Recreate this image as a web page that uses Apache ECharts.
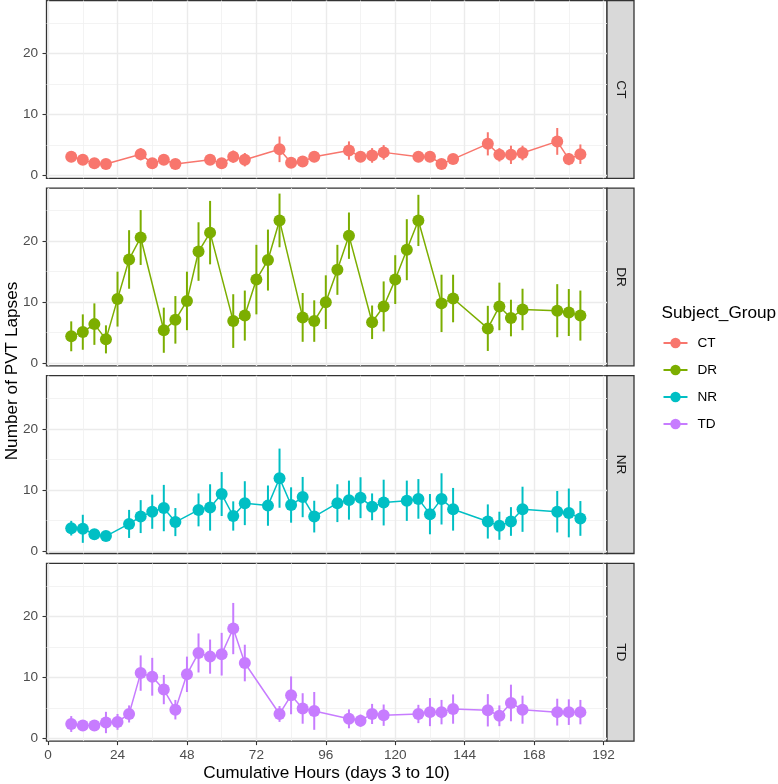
<!DOCTYPE html>
<html>
<head>
<meta charset="utf-8">
<script src="https://cdn.jsdelivr.net/npm/echarts@6/dist/echarts.min.js"></script>
<style>
  html, body { margin: 0; padding: 0; background: #FFFFFF; }
  #chart { width: 778px; height: 784px; }
</style>
</head>
<body>
<div id="chart"></div>
<script>
// facet groups and ggplot default hues
const groups = ['CT', 'DR', 'NR', 'TD'];
const groupColors = ['#F8766D', '#7CAE00', '#00BFC4', '#C77CFF'];

// x ticks (cumulative hours) and y ticks (lapses)
const xTicks = [0, 24, 48, 72, 96, 120, 144, 168, 192];
const xMinor = [12, 36, 60, 84, 108, 132, 156, 180];
const yTicks = [0, 10, 20];
const yMinor = [5, 15, 25];

// CT
const ctHours = [8, 12, 16, 20, 32, 36, 40, 44, 56, 60, 64, 68, 80, 84, 88, 92, 104, 108, 112, 116, 128, 132, 136, 140, 152, 156, 160, 164, 176, 180, 184];
const ctMean = [3.1, 2.6, 2.0, 1.9, 3.5, 2.0, 2.6, 1.9, 2.6, 2.0, 3.1, 2.6, 4.3, 2.1, 2.3, 3.1, 4.1, 3.1, 3.3, 3.8, 3.1, 3.1, 1.9, 2.7, 5.2, 3.4, 3.4, 3.7, 5.6, 2.7, 3.5];
const ctErr = [0.9, 0.8, 0.7, 0.6, 1.0, 0.8, 0.8, 0.7, 0.8, 0.7, 1.0, 1.1, 2.1, 0.8, 0.8, 0.9, 1.5, 0.9, 1.2, 1.2, 0.9, 0.9, 0.7, 0.8, 1.9, 1.1, 1.5, 1.2, 2.2, 1.0, 1.6];

// DR
const drHours = [8, 12, 16, 20, 24, 28, 32, 40, 44, 48, 52, 56, 64, 68, 72, 76, 80, 88, 92, 96, 100, 104, 112, 116, 120, 124, 128, 136, 140, 152, 156, 160, 164, 176, 180, 184];
const drMean = [4.4, 5.1, 6.4, 3.9, 10.5, 17.0, 20.6, 5.4, 7.1, 10.2, 18.3, 21.4, 6.9, 7.8, 13.7, 16.9, 23.4, 7.5, 6.9, 10.0, 15.3, 20.9, 6.7, 9.3, 13.7, 18.6, 23.4, 9.8, 10.6, 5.7, 9.3, 7.4, 8.8, 8.6, 8.3, 7.8];
const drErr = [2.45, 2.9, 3.4, 2.3, 4.5, 4.8, 4.5, 3.7, 3.9, 4.8, 4.8, 5.2, 4.4, 4.1, 5.7, 5.0, 4.4, 4.0, 3.4, 4.4, 4.1, 3.8, 2.75, 4.1, 4.0, 5.0, 4.2, 4.7, 3.9, 3.7, 3.9, 3.0, 3.4, 4.35, 3.85, 4.1];

// NR
const nrHours = [8, 12, 16, 20, 28, 32, 36, 40, 44, 52, 56, 60, 64, 68, 76, 80, 84, 88, 92, 100, 104, 108, 112, 116, 124, 128, 132, 136, 140, 152, 156, 160, 164, 176, 180, 184];
const nrMean = [3.7, 3.6, 2.7, 2.4, 4.4, 5.6, 6.4, 7.0, 4.7, 6.7, 7.1, 9.3, 5.7, 7.8, 7.4, 11.9, 7.5, 8.8, 5.6, 7.8, 8.3, 8.7, 7.2, 7.9, 8.2, 8.5, 6.0, 8.5, 6.8, 4.8, 4.1, 4.8, 6.8, 6.4, 6.2, 5.3];
const nrErr = [1.2, 2.3, 0.8, 0.7, 2.3, 2.7, 2.8, 3.8, 2.3, 2.7, 3.8, 3.6, 2.4, 3.6, 3.3, 4.85, 2.9, 3.3, 2.6, 3.1, 3.2, 3.35, 2.2, 3.75, 3.3, 3.25, 3.3, 4.2, 3.5, 2.8, 2.3, 2.35, 3.7, 3.4, 4.0, 2.85];

// TD
const tdHours = [8, 12, 16, 20, 24, 28, 32, 36, 40, 44, 48, 52, 56, 60, 64, 68, 80, 84, 88, 92, 104, 108, 112, 116, 128, 132, 136, 140, 152, 156, 160, 164, 176, 180, 184];
const tdMean = [2.35, 2.1, 2.1, 2.6, 2.7, 4.0, 10.7, 10.1, 8.0, 4.7, 10.5, 14.0, 13.4, 13.8, 18.0, 12.35, 4.0, 7.05, 4.9, 4.5, 3.2, 2.9, 4.0, 3.8, 4.0, 4.3, 4.3, 4.8, 4.6, 3.7, 5.8, 4.7, 4.3, 4.3, 4.3];
const tdErr = [1.3, 0.8, 0.8, 1.75, 1.3, 1.4, 2.9, 3.1, 2.4, 1.6, 2.9, 3.2, 2.8, 3.5, 4.2, 3.0, 1.3, 3.1, 2.5, 3.1, 1.55, 1.0, 1.65, 1.75, 1.5, 2.3, 2.0, 2.4, 2.65, 1.7, 3.0, 2.3, 2.2, 2.1, 2.0];

const facetData = [
    [ctHours, ctMean, ctErr],
    [drHours, drMean, drErr],
    [nrHours, nrMean, nrErr],
    [tdHours, tdMean, tdErr]
];

// layout
const FONT = "'Liberation Sans', Arial, Helvetica, sans-serif";
const SMALL = 13.6, BIG = 17.2;
const PLOT_LEFT = 46.5;
const PLOT_W = 560.5;
const PLOT_H = 177.8;
const PANEL_TOPS = [0.5, 188.1, 375.7, 563.3];
const STRIP_W = 27;
const X_MIN = -0.55, X_MAX = 193.2;
const Y_MIN = -0.45, Y_MAX = 28.7;

const grids = [], xAxes = [], yAxes = [], series = [], graphics = [];

PANEL_TOPS.forEach((top, i) => {
    const last = i === PANEL_TOPS.length - 1;
    grids.push({
        left: PLOT_LEFT, top: top, width: PLOT_W, height: PLOT_H,
        show: true, borderColor: '#333333', borderWidth: 1.3, backgroundColor: 'transparent'
    });

    // major x
    xAxes.push({
        gridIndex: i, type: 'value', min: X_MIN, max: X_MAX,
        axisLine: { show: false, onZero: false },
        axisTick: { show: last, customValues: xTicks, length: 4, lineStyle: { color: '#333333', width: 1.1 } },
        axisLabel: { show: last, customValues: xTicks, margin: 7.5, fontSize: SMALL, color: '#4D4D4D', fontFamily: FONT },
        splitLine: { show: true, lineStyle: { color: '#EBEBEB', width: 1.4 } }
    });
    // minor x
    xAxes.push({
        gridIndex: i, type: 'value', min: X_MIN, max: X_MAX, position: 'top',
        axisLine: { show: false, onZero: false },
        axisTick: { show: false, customValues: xMinor },
        axisLabel: { show: false },
        splitLine: { show: true, lineStyle: { color: '#F0F0F0', width: 0.8 } }
    });
    // major y
    yAxes.push({
        gridIndex: i, type: 'value', min: Y_MIN, max: Y_MAX,
        axisLine: { show: false, onZero: false },
        axisTick: { show: true, customValues: yTicks, length: 4, lineStyle: { color: '#333333', width: 1.1 } },
        axisLabel: { show: true, customValues: yTicks, margin: 8.5, fontSize: SMALL, color: '#4D4D4D', fontFamily: FONT },
        splitLine: { show: true, lineStyle: { color: '#EBEBEB', width: 1.4 } }
    });
    // minor y
    yAxes.push({
        gridIndex: i, type: 'value', min: Y_MIN, max: Y_MAX, position: 'right',
        axisLine: { show: false, onZero: false },
        axisTick: { show: false, customValues: yMinor },
        axisLabel: { show: false },
        splitLine: { show: true, lineStyle: { color: '#F0F0F0', width: 0.8 } }
    });

    // strip on the right
    graphics.push({
        type: 'rect',
        shape: { x: PLOT_LEFT + PLOT_W, y: top, width: STRIP_W, height: PLOT_H },
        style: { fill: '#D9D9D9', stroke: '#333333', lineWidth: 1.3 }
    });
    graphics.push({
        type: 'text',
        x: PLOT_LEFT + PLOT_W + STRIP_W / 2, y: top + PLOT_H / 2,
        rotation: -Math.PI / 2,
        style: { text: groups[i], fontSize: SMALL, fill: '#1A1A1A', fontFamily: FONT, align: 'center', verticalAlign: 'middle' }
    });
});

// line + points first so the legend takes their icon
facetData.forEach(([hours, mean], i) => {
    series.push({
        name: groups[i], type: 'line', xAxisIndex: 2 * i, yAxisIndex: 2 * i,
        data: hours.map((h, k) => [h, mean[k]]),
        symbol: 'circle', symbolSize: 12, showSymbol: true,
        lineStyle: { color: groupColors[i], width: 1.5 },
        itemStyle: { color: groupColors[i] },
        emphasis: { disabled: true }, z: 3
    });
});
facetData.forEach(([hours, mean, err], i) => {
    series.push({
        name: groups[i], type: 'custom', xAxisIndex: 2 * i, yAxisIndex: 2 * i,
        data: hours.map((h, k) => [h, mean[k] - err[k], mean[k] + err[k]]),
        encode: { x: 0, y: [1, 2] },
        renderItem: (params, api) => {
            const lo = api.coord([api.value(0), api.value(1)]);
            const hi = api.coord([api.value(0), api.value(2)]);
            return {
                type: 'line',
                shape: { x1: lo[0], y1: lo[1], x2: hi[0], y2: hi[1] },
                style: { stroke: groupColors[i], lineWidth: 2 }
            };
        },
        z: 3
    });
});

graphics.push({
    type: 'text', x: 12, y: 371, rotation: Math.PI / 2,
    style: { text: 'Number of PVT Lapses', fontSize: BIG, fill: '#000000', fontFamily: FONT, align: 'center', verticalAlign: 'middle' }
});
graphics.push({
    type: 'text', x: 326.5, y: 773.5,
    style: { text: 'Cumulative Hours (days 3 to 10)', fontSize: BIG, fill: '#000000', fontFamily: FONT, align: 'center', verticalAlign: 'middle' }
});
graphics.push({
    type: 'text', x: 661.5, y: 313.5,
    style: { text: 'Subject_Group', fontSize: BIG, fill: '#000000', fontFamily: FONT, align: 'left', verticalAlign: 'middle' }
});

const chart = echarts.init(document.getElementById('chart'), null, { renderer: 'canvas' });
chart.setOption({
    animation: false,
    backgroundColor: '#FFFFFF',
    textStyle: { fontFamily: FONT },
    grid: grids,
    xAxis: xAxes,
    yAxis: yAxes,
    legend: {
        data: groups, orient: 'vertical', left: 662.5, top: 336, padding: 0,
        itemWidth: 24, itemHeight: 13, itemGap: 13, selectedMode: false,
        textStyle: { fontSize: SMALL, color: '#000000', fontFamily: FONT, padding: [0, 0, 0, 5] }
    },
    series: series,
    graphic: graphics
});
</script>
</body>
</html>
